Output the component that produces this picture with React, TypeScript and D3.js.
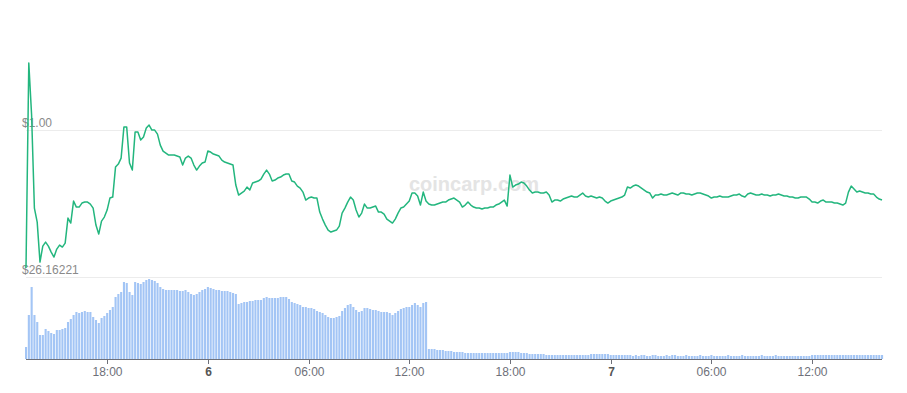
import React from "react";
import * as d3 from "d3";

const WIDTH = 907;
const HEIGHT = 393;
const PLOT_LEFT = 26;
const PLOT_RIGHT = 882;
const PRICE_TOP = 130;
const PRICE_BOTTOM = 277;
const VOL_BOTTOM = 359;

// 10 minute samples, from 13:10 on the 5th to 16:10 on the 7th
const StartTime = new Date(2022, 0, 5, 13, 10);
const STEP_MIN = 10;

const priceTicks = [26.16221, 30.57221];
const priceTickLabels = ["$26.16221", "$1.00"];

const prices = [
  26.43, 32.58, 31.02, 28.23, 27.81, 26.61, 27.09, 27.21, 27.09, 26.91,
  26.76, 27.0, 27.12, 27.06, 27.18, 27.93, 27.78, 28.44, 28.26, 28.26,
  28.38, 28.41, 28.41, 28.35, 28.23, 27.72, 27.45, 27.84, 27.96, 28.17,
  28.53, 28.56, 29.46, 29.55, 29.73, 30.66, 30.66, 29.58, 29.37, 30.51,
  30.51, 30.27, 30.36, 30.63, 30.72, 30.57, 30.57, 30.45, 30.12, 29.94,
  29.88, 29.82, 29.82, 29.82, 29.79, 29.76, 29.52, 29.73, 29.79, 29.73,
  29.52, 29.37, 29.49, 29.58, 29.61, 29.94, 29.91, 29.85, 29.82, 29.79,
  29.67, 29.61, 29.58, 29.55, 29.52, 28.92, 28.62, 28.68, 28.74, 28.86,
  28.77, 28.98, 29.01, 29.04, 29.1, 29.25, 29.37, 29.25, 29.04, 29.07,
  29.13, 29.16, 29.22, 29.25, 29.25, 29.04, 29.01, 28.89, 28.83, 28.71,
  28.47, 28.53, 28.56, 28.53, 28.53, 28.11, 27.9, 27.72, 27.57, 27.51,
  27.54, 27.57, 27.69, 28.08, 28.23, 28.41, 28.56, 28.47, 28.17, 27.96,
  28.08, 28.35, 28.23, 28.23, 28.26, 28.29, 28.11, 28.11, 28.05, 27.9,
  27.84, 27.78, 27.9, 28.08, 28.23, 28.26, 28.35, 28.44, 28.68, 28.68,
  28.59, 28.32, 28.71, 28.44, 28.35, 28.32, 28.32, 28.35, 28.38, 28.41,
  28.41, 28.47, 28.5, 28.53, 28.47, 28.41, 28.26, 28.32, 28.41, 28.32,
  28.26, 28.23, 28.23, 28.2, 28.23, 28.23, 28.26, 28.26, 28.32, 28.35,
  28.41, 28.47, 28.29, 29.22, 28.86, 28.92, 28.95, 29.01, 28.98, 28.89,
  28.77, 28.68, 28.71, 28.71, 28.68, 28.68, 28.71, 28.62, 28.41, 28.47,
  28.47, 28.44, 28.5, 28.53, 28.56, 28.59, 28.56, 28.56, 28.62, 28.68,
  28.59, 28.56, 28.59, 28.56, 28.53, 28.56, 28.53, 28.44, 28.38, 28.44,
  28.47, 28.5, 28.53, 28.56, 28.62, 28.86, 28.83, 28.89, 28.92, 28.89,
  28.83, 28.77, 28.71, 28.68, 28.53, 28.62, 28.62, 28.65, 28.62, 28.62,
  28.65, 28.68, 28.65, 28.62, 28.68, 28.68, 28.65, 28.65, 28.62, 28.65,
  28.68, 28.68, 28.65, 28.62, 28.59, 28.53, 28.56, 28.56, 28.59, 28.56,
  28.56, 28.56, 28.59, 28.62, 28.62, 28.65, 28.59, 28.56, 28.65, 28.68,
  28.65, 28.62, 28.62, 28.65, 28.62, 28.62, 28.59, 28.62, 28.62, 28.65,
  28.62, 28.59, 28.59, 28.56, 28.56, 28.53, 28.53, 28.56, 28.56, 28.56,
  28.5, 28.41, 28.41, 28.38, 28.44, 28.47, 28.41, 28.41, 28.41, 28.38,
  28.38, 28.35, 28.32, 28.38, 28.71, 28.89, 28.8, 28.71, 28.74, 28.71,
  28.68, 28.68, 28.65, 28.65, 28.56, 28.5, 28.47,
];

const volumes = [
  12, 44, 72, 44, 37, 24, 24, 30, 28, 26,
  25, 29, 29, 30, 31, 37, 40, 44, 47, 46,
  47, 48, 47, 47, 42, 39, 36, 41, 43, 46,
  49, 52, 62, 65, 67, 77, 76, 67, 64, 77,
  76, 75, 77, 79, 80, 79, 78, 76, 72, 70,
  69, 69, 69, 69, 69, 68, 68, 69, 67, 65,
  64, 65, 67, 69, 70, 72, 71, 70, 69, 69,
  68, 68, 68, 67, 66, 65, 55, 56, 57, 57,
  58, 58, 59, 59, 59, 61, 62, 61, 61, 61,
  61, 62, 62, 62, 60, 57, 56, 55, 54, 52,
  52, 51, 51, 50, 48, 47, 46, 44, 42, 41,
  41, 42, 43, 48, 51, 54, 55, 52, 49, 47,
  48, 51, 51, 50, 49, 49, 48, 47, 47, 47,
  46, 44, 46, 48, 50, 51, 52, 52, 54, 56,
  54, 52, 56, 57, 10, 10, 10, 9, 9, 9,
  8, 8, 8, 7, 7, 7, 7, 6, 6, 6,
  6, 6, 6, 6, 6, 6, 6, 6, 6, 6,
  6, 6, 6, 7, 7, 7, 7, 6, 6, 6,
  5, 5, 5, 5, 5, 5, 4, 4, 4, 4,
  4, 4, 4, 4, 4, 4, 4, 4, 4, 4,
  4, 4, 5, 5, 5, 5, 5, 5, 5, 4,
  4, 4, 4, 4, 4, 4, 4, 3, 4, 3,
  4, 4, 3, 3, 4, 4, 3, 3, 3, 4,
  3, 4, 4, 3, 3, 3, 4, 3, 3, 3,
  3, 4, 3, 3, 3, 4, 3, 3, 3, 3,
  3, 4, 3, 3, 3, 3, 4, 3, 3, 3,
  3, 3, 3, 4, 3, 3, 3, 3, 4, 3,
  3, 3, 3, 3, 3, 3, 3, 3, 3, 3,
  3, 4, 4, 4, 4, 4, 4, 4, 4, 4,
  4, 4, 4, 4, 4, 4, 4, 4, 4, 4,
  4, 4, 4, 4, 4, 4, 4,
];

const timeAt = (i: number) => new Date(StartTime.getTime() + i * STEP_MIN * 60000);

const FONT = "'Liberation Sans', Arial, sans-serif";

const App = () => {
  React.useEffect(() => {
    document.body.style.margin = "0";
  }, []);

  const times = prices.map((_, i) => timeAt(i));

  const xScale = d3
    .scaleTime()
    .domain([times[0], times[times.length - 1]])
    .range([PLOT_LEFT, PLOT_RIGHT]);

  const yPrice = d3
    .scaleLinear()
    .domain([priceTicks[0], priceTicks[1]])
    .range([PRICE_BOTTOM, PRICE_TOP]);

  const yVol = d3.scaleLinear().domain([0, 82]).range([VOL_BOTTOM, PRICE_BOTTOM]);

  const line = d3
    .line<number>()
    .x((_, i) => xScale(times[i]))
    .y((d) => yPrice(d));

  const xTicks = xScale.ticks(d3.timeHour.every(6) as d3.TimeInterval);
  const hourFormat = d3.timeFormat("%H:%M");
  const dayFormat = d3.timeFormat("%-d");

  return (
    <svg width={WIDTH} height={HEIGHT} style={{ display: "block", background: "#fff" }}>
      {/* grid lines */}
      {priceTicks.map((t) => (
        <line
          key={t}
          x1={PLOT_LEFT}
          x2={PLOT_RIGHT}
          y1={yPrice(t) + 0.5}
          y2={yPrice(t) + 0.5}
          stroke="#ececec"
        />
      ))}

      {/* watermark */}
      <text
        x={474}
        y={191}
        textAnchor="middle"
        style={{ fontFamily: FONT, fontSize: 20, fontWeight: "bold", fill: "#e4e4e4" }}
      >
        coincarp.com
      </text>

      {/* volume bars */}
      {volumes.map((v, i) => (
        <rect
          key={i}
          x={xScale(timeAt(i)) - 1}
          y={yVol(v)}
          width={2.1}
          height={VOL_BOTTOM - yVol(v)}
          fill="#a3c5f5"
        />
      ))}

      {/* price labels */}
      {priceTicks.map((t, i) => (
        <text
          key={t}
          x={22}
          y={yPrice(t) - 3}
          style={{ fontFamily: FONT, fontSize: 12, fill: "#8a8a8a" }}
        >
          {priceTickLabels[i]}
        </text>
      ))}

      {/* price line */}
      <path
        d={line(prices) || ""}
        fill="none"
        stroke="#23b67e"
        strokeWidth={1.5}
        strokeLinejoin="round"
      />

      {/* x axis */}
      <line
        x1={PLOT_LEFT}
        x2={PLOT_RIGHT}
        y1={VOL_BOTTOM + 0.5}
        y2={VOL_BOTTOM + 0.5}
        stroke="#6e7079"
      />
      {xTicks.map((t) => {
        const isDay = t.getHours() === 0;
        const x = Math.round(xScale(t)) + 0.5;
        return (
          <g key={t.getTime()} transform={`translate(${x}, ${VOL_BOTTOM})`}>
            <line y1={0} y2={5} stroke="#6e7079" />
            <text
              y={17}
              textAnchor="middle"
              style={{
                fontFamily: FONT,
                fontSize: 12,
                fill: isDay ? "#555" : "#6e7079",
                fontWeight: isDay ? "bold" : "normal",
              }}
            >
              {isDay ? dayFormat(t) : hourFormat(t)}
            </text>
          </g>
        );
      })}
    </svg>
  );
};

export default App;
